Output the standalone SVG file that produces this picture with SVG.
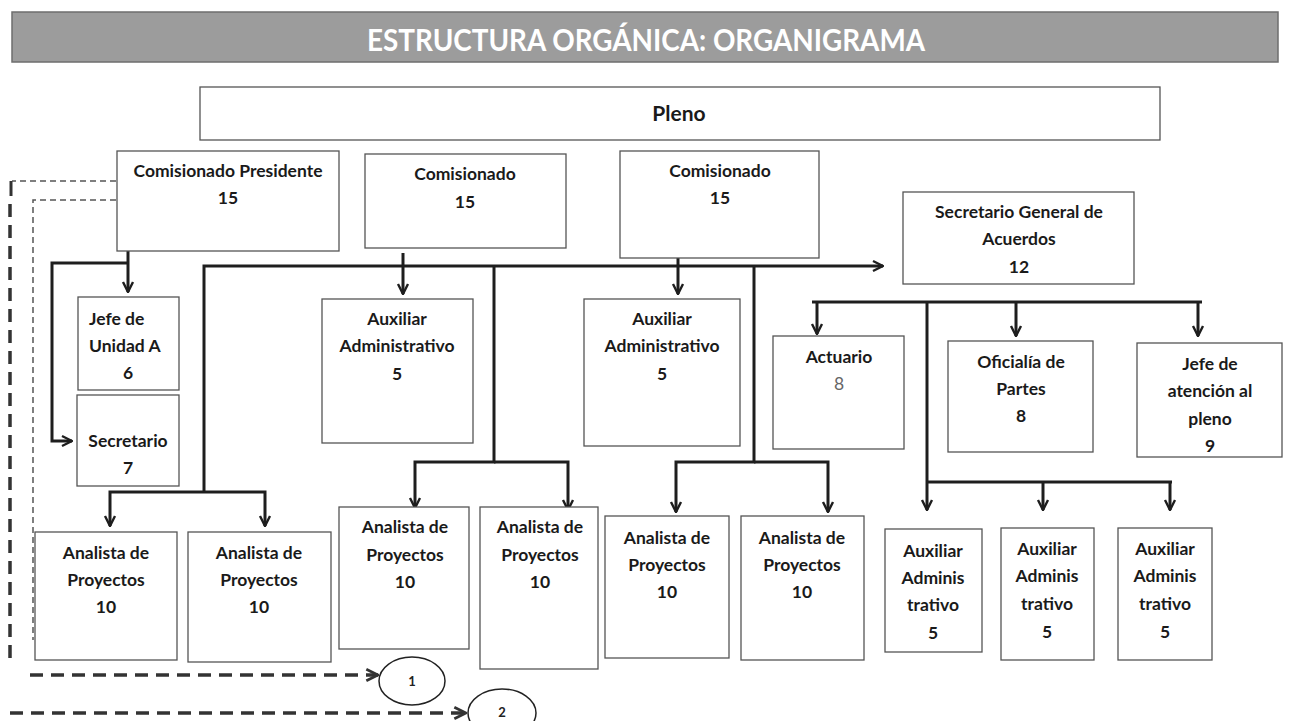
<svg xmlns="http://www.w3.org/2000/svg" width="1297" height="721" viewBox="0 0 1297 721">
<style>
.box{fill:#fff;stroke:#555;stroke-width:1.3}
.t{font-family:Lato,"Liberation Sans",sans-serif;font-weight:bold;font-size:17.5px;fill:#1a1a1a;text-anchor:middle}
.g{font-weight:normal;fill:#666}
.c{fill:none;stroke:#1e1e1e;stroke-width:3}
.dthin{fill:none;stroke:#555;stroke-width:1.5;stroke-dasharray:6 4}
.dthick{fill:none;stroke:#333;stroke-width:3.5;stroke-dasharray:13 8}
.num{font-family:Lato,"Liberation Sans",sans-serif;font-weight:bold;font-size:13px;fill:#222;text-anchor:middle}
</style>
<defs>
<marker id="ah" viewBox="0 0 12 12" refX="11" refY="6" markerWidth="12" markerHeight="14" markerUnits="userSpaceOnUse" orient="auto">
<path d="M1,1 L11,6 L1,11" fill="none" stroke="#1e1e1e" stroke-width="2.4"/>
</marker>
<marker id="ahd" viewBox="0 0 12 12" refX="11" refY="6" markerWidth="14" markerHeight="16" markerUnits="userSpaceOnUse" orient="auto">
<path d="M1,1 L11,6 L1,11" fill="none" stroke="#333" stroke-width="2.4"/>
</marker>
</defs>
<rect width="1297" height="721" fill="#fff"/>

<g id="title">
<rect x="12" y="12" width="1266" height="50" fill="#9c9c9c" stroke="#6e6e6e" stroke-width="1.5"/>
<text x="646" y="51" font-family="Lato,'Liberation Sans',sans-serif" font-weight="bold" font-size="30" fill="#fff" text-anchor="middle" textLength="558" lengthAdjust="spacingAndGlyphs">ESTRUCTURA ORGÁNICA: ORGANIGRAMA</text>
</g>

<g id="pleno">
<rect class="box" x="200" y="87" width="960" height="53"/>
<text class="t" x="679" y="121" style="font-size:21px">Pleno</text>
</g>

<g id="connectors">
<path class="c" d="M128,251 V292" marker-end="url(#ah)"/>
<path class="c" d="M128,263 H52 V441 H72" marker-end="url(#ah)"/>
<path class="c" d="M204,492 V266 H883" marker-end="url(#ah)"/>
<path class="c" d="M403,253 V294" marker-end="url(#ah)"/>
<path class="c" d="M678,258 V294" marker-end="url(#ah)"/>
<path class="c" d="M204,492 H110 V526" marker-end="url(#ah)"/>
<path class="c" d="M204,492 H265 V526" marker-end="url(#ah)"/>
<path class="c" d="M494,266 V462 H415 V508" marker-end="url(#ah)"/>
<path class="c" d="M494,462 H568 V510" marker-end="url(#ah)"/>
<path class="c" d="M754,266 V462 H676 V512" marker-end="url(#ah)"/>
<path class="c" d="M754,462 H828 V512" marker-end="url(#ah)"/>
<path class="c" d="M812,302 H1202"/>
<path class="c" d="M817,302 V334" marker-end="url(#ah)"/>
<path class="c" d="M1016,302 V336" marker-end="url(#ah)"/>
<path class="c" d="M1198,302 V336" marker-end="url(#ah)"/>
<path class="c" d="M927,302 V510" marker-end="url(#ah)"/>
<path class="c" d="M927,482 H1172"/>
<path class="c" d="M1043,482 V510" marker-end="url(#ah)"/>
<path class="c" d="M1170,482 V510" marker-end="url(#ah)"/>
<path class="dthin" d="M116,181 H12"/>
<path fill="none" stroke="#333" stroke-width="3" d="M11,181 V196"/>
<path class="dthick" d="M10,204 V665"/>
<path class="dthin" d="M116,200 H33 V640"/>
<path class="dthick" d="M30,675 H378" marker-end="url(#ahd)"/>
<path class="dthick" d="M10,713 H466" marker-end="url(#ahd)"/>
</g>

<g id="comisionado-presidente">
<rect class="box" x="117" y="151" width="222" height="100"/>
<text class="t" x="228" y="177">Comisionado Presidente</text>
<text class="t" x="228" y="204">15</text>
</g>
<g id="comisionado-1">
<rect class="box" x="365" y="154" width="201" height="94"/>
<text class="t" x="465" y="180">Comisionado</text>
<text class="t" x="465" y="208">15</text>
</g>
<g id="comisionado-2">
<rect class="box" x="620" y="151" width="199" height="107"/>
<text class="t" x="720" y="177">Comisionado</text>
<text class="t" x="720" y="204">15</text>
</g>
<g id="secretario-general">
<rect class="box" x="903" y="192" width="231" height="92"/>
<text class="t" x="1019" y="218">Secretario General de</text>
<text class="t" x="1019" y="245">Acuerdos</text>
<text class="t" x="1019" y="273">12</text>
</g>

<g id="jefe-unidad">
<rect class="box" x="78" y="297" width="101" height="93"/>
<text class="t" x="89" y="325" style="text-anchor:start">Jefe de</text>
<text class="t" x="89" y="352" style="text-anchor:start">Unidad A</text>
<text class="t" x="128" y="379">6</text>
</g>
<g id="secretario">
<rect class="box" x="77" y="395" width="102" height="91"/>
<text class="t" x="128" y="447">Secretario</text>
<text class="t" x="128" y="474">7</text>
</g>

<g id="aux-admin-1">
<rect class="box" x="322" y="299" width="151" height="144"/>
<text class="t" x="397" y="325">Auxiliar</text>
<text class="t" x="397" y="352">Administrativo</text>
<text class="t" x="397" y="380">5</text>
</g>
<g id="aux-admin-2">
<rect class="box" x="584" y="299" width="156" height="147"/>
<text class="t" x="662" y="325">Auxiliar</text>
<text class="t" x="662" y="352">Administrativo</text>
<text class="t" x="662" y="380">5</text>
</g>

<g id="analista-1">
<rect class="box" x="35" y="532" width="142" height="128"/>
<text class="t" x="106" y="559">Analista de</text>
<text class="t" x="106" y="586">Proyectos</text>
<text class="t" x="106" y="613">10</text>
</g>
<g id="analista-2">
<rect class="box" x="188" y="532" width="143" height="130"/>
<text class="t" x="259" y="559">Analista de</text>
<text class="t" x="259" y="586">Proyectos</text>
<text class="t" x="259" y="613">10</text>
</g>
<g id="analista-3">
<rect class="box" x="339" y="507" width="130" height="142"/>
<text class="t" x="405" y="533">Analista de</text>
<text class="t" x="405" y="561">Proyectos</text>
<text class="t" x="405" y="588">10</text>
</g>
<g id="analista-4">
<rect class="box" x="480" y="507" width="118" height="162"/>
<text class="t" x="540" y="533">Analista de</text>
<text class="t" x="540" y="561">Proyectos</text>
<text class="t" x="540" y="588">10</text>
</g>
<g id="analista-5">
<rect class="box" x="605" y="516" width="124" height="142"/>
<text class="t" x="667" y="544">Analista de</text>
<text class="t" x="667" y="571">Proyectos</text>
<text class="t" x="667" y="598">10</text>
</g>
<g id="analista-6">
<rect class="box" x="741" y="516" width="123" height="144"/>
<text class="t" x="802" y="544">Analista de</text>
<text class="t" x="802" y="571">Proyectos</text>
<text class="t" x="802" y="598">10</text>
</g>

<g id="actuario">
<rect class="box" x="773" y="336" width="131" height="113"/>
<text class="t" x="839" y="363">Actuario</text>
<text class="t g" x="839" y="390">8</text>
</g>
<g id="oficialia">
<rect class="box" x="948" y="341" width="145" height="111"/>
<text class="t" x="1021" y="368">Oficialía de</text>
<text class="t" x="1021" y="395">Partes</text>
<text class="t" x="1021" y="422">8</text>
</g>
<g id="jefe-atencion">
<rect class="box" x="1137" y="343" width="145" height="114"/>
<text class="t" x="1210" y="370">Jefe de</text>
<text class="t" x="1210" y="397">atención al</text>
<text class="t" x="1210" y="425">pleno</text>
<text class="t" x="1210" y="452">9</text>
</g>

<g id="aux-adm-a">
<rect class="box" x="885" y="529" width="97" height="123"/>
<text class="t" x="933" y="557">Auxiliar</text>
<text class="t" x="933" y="584">Adminis</text>
<text class="t" x="933" y="611">trativo</text>
<text class="t" x="933" y="639">5</text>
</g>
<g id="aux-adm-b">
<rect class="box" x="1001" y="528" width="93" height="132"/>
<text class="t" x="1047" y="555">Auxiliar</text>
<text class="t" x="1047" y="582">Adminis</text>
<text class="t" x="1047" y="610">trativo</text>
<text class="t" x="1047" y="638">5</text>
</g>
<g id="aux-adm-c">
<rect class="box" x="1118" y="528" width="94" height="132"/>
<text class="t" x="1165" y="555">Auxiliar</text>
<text class="t" x="1165" y="582">Adminis</text>
<text class="t" x="1165" y="610">trativo</text>
<text class="t" x="1165" y="638">5</text>
</g>

<g id="ref-1">
<ellipse cx="412" cy="681" rx="33" ry="24" fill="#fff" stroke="#222" stroke-width="1.5"/>
<text class="num" x="412" y="686">1</text>
</g>
<g id="ref-2">
<ellipse cx="502" cy="713" rx="34" ry="24" fill="#fff" stroke="#222" stroke-width="1.5"/>
<text class="num" x="502" y="717">2</text>
</g>
</svg>
